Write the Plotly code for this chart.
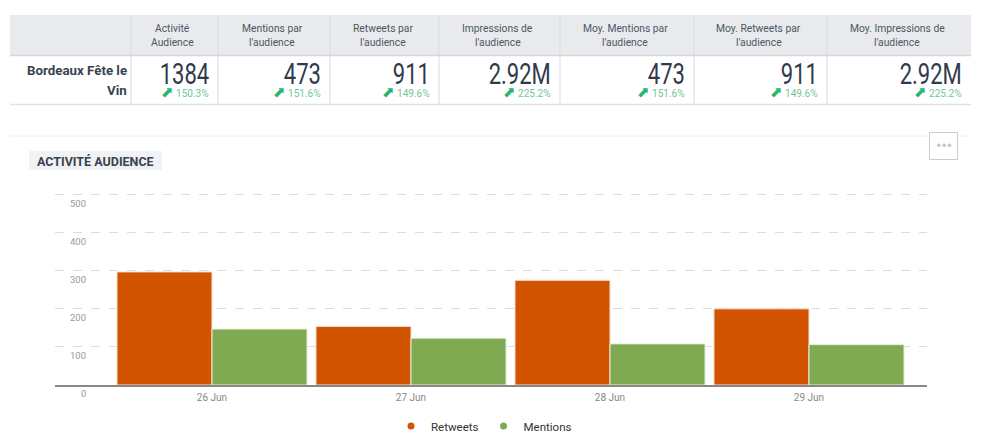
import plotly.graph_objects as go

W, H = 986, 448
days = ["26 Jun", "27 Jun", "28 Jun", "29 Jun"]
retweets = [297, 154, 275, 200]
mentions = [147, 123, 108, 106]
y_ticks = [0, 100, 200, 300, 400, 500]

row_label = ["Bordeaux Fête le", "Vin"]
headers = [["Activité", "Audience"], ["Mentions par", "l'audience"], ["Retweets par", "l'audience"],
           ["Impressions de", "l'audience"], ["Moy. Mentions par", "l'audience"],
           ["Moy. Retweets par", "l'audience"], ["Moy. Impressions de", "l'audience"]]
values = ["1384", "473", "911", "2.92M", "473", "911", "2.92M"]
changes = ["150.3%", "151.6%", "149.6%", "225.2%", "151.6%", "149.6%", "225.2%"]
col_edges = [131, 218, 330, 439, 560, 694, 827, 971]

ORANGE, GREEN = "#d35400", "#7faa52"
FONT = "Roboto"
BIG = 29


def px(x):
    return x / W


def py(y):
    return 1 - y / H


def text(x, y, s, size, color, anchor="center", family=FONT):
    return dict(xref="paper", yref="paper", x=px(x), y=py(y), text=s, showarrow=False,
                xanchor=anchor, yanchor="middle", font=dict(size=size, color=color, family=family))


def rect(x0, y0, x1, y1, fill="rgba(0,0,0,0)", line="rgba(0,0,0,0)", width=1):
    return dict(type="rect", xref="paper", yref="paper", x0=px(x0), x1=px(x1), y0=py(y0), y1=py(y1),
                fillcolor=fill, line=dict(color=line, width=width), layer="below")


def hline(x0, x1, y, color, width=1):
    return dict(type="line", xref="paper", yref="paper", x0=px(x0), x1=px(x1), y0=py(y), y1=py(y),
                line=dict(color=color, width=width), layer="below")


def vline(x, y0, y1, color):
    return dict(type="line", xref="paper", yref="paper", x0=px(x), x1=px(x), y0=py(y0), y1=py(y1),
                line=dict(color=color, width=1), layer="below")


shapes = [rect(10, 15, 971, 55, fill="#e8eaed"),
          hline(10, 971, 55.5, "#d5d8db", 1.5),
          hline(10, 971, 104.5, "#dfe1e3", 1.5),
          hline(10, 971, 136, "#eeeeee"),
          rect(29, 151, 162, 170, fill="#f1f2f4"),
          rect(929.5, 132.5, 957.5, 159.5, fill="#ffffff", line="#cccccc")]
annotations = []

for e in col_edges[:-1]:
    shapes.append(vline(e, 15, 104, "#d9dbde"))

for i, head in enumerate(headers):
    cx = (col_edges[i] + col_edges[i + 1]) / 2 - 2
    annotations.append(text(cx, 28.5, head[0], 10.3, "#4d5763"))
    annotations.append(text(cx, 42.5, head[1], 10.3, "#4d5763"))
    right = col_edges[i + 1] - 7
    annotations.append(text(right, 74, values[i], BIG, "#2f3a4c", "right"))
    annotations.append(text(right, 92, "<span style='color:#27b56f;font-family:DejaVu Sans;font-size:15px'>⬈</span> "
                            + changes[i], 10, "#6fc79a", "right"))

annotations.append(text(129, 71, "<b>" + row_label[0] + "</b>", 13.3, "#3a4350", "right"))
annotations.append(text(129, 90, "<b>" + row_label[1] + "</b>", 13.3, "#3a4350", "right"))
annotations.append(text(95.5, 161, "<b>ACTIVITÉ AUDIENCE</b>", 12.5, "#3a4350"))
annotations.append(text(943.5, 145, "•••", 16, "#c4c4c4"))

for t in y_ticks:
    annotations.append(dict(xref="paper", yref="y", x=px(88), y=t, yshift=-8.5, text=str(t),
                            showarrow=False, xanchor="right", yanchor="middle",
                            font=dict(size=9.5, color="#999999", family=FONT)))

fig = go.Figure()
fig.add_bar(x=days, y=retweets, name="Retweets", marker=dict(color=ORANGE, line=dict(color="#f2e4d8", width=1)),
            showlegend=False)
fig.add_bar(x=days, y=mentions, name="Mentions", marker=dict(color=GREEN, line=dict(color="#e6eddd", width=1)),
            showlegend=False)
fig.add_scatter(x=[None], y=[None], mode="markers", name="Retweets", marker=dict(color=ORANGE, size=7))
fig.add_scatter(x=[None], y=[None], mode="markers", name="Mentions", marker=dict(color=GREEN, size=7))

fig.update_layout(
    width=W, height=H, margin=dict(l=0, r=0, t=0, b=0), autosize=False,
    paper_bgcolor="#ffffff", plot_bgcolor="rgba(0,0,0,0)",
    barmode="group", bargap=0.045, bargroupgap=0,
    shapes=shapes, annotations=annotations,
    font=dict(family=FONT),
    legend=dict(orientation="h", x=px(484), xanchor="center", y=py(426), yanchor="middle",
                font=dict(size=11.5, color="#333333", family=FONT), itemsizing="trace"),
    xaxis=dict(domain=[px(55), px(927)], type="category", categoryorder="array", categoryarray=days,
               range=[-0.789, 3.593], showgrid=False, showline=True, linecolor="#888888", linewidth=2,
               ticks="", ticklabelstandoff=2, tickfont=dict(size=10, color="#888888", family=FONT),
               anchor="y", fixedrange=True),
    yaxis=dict(domain=[py(385), py(187)], range=[0, 520], tickvals=y_ticks, showticklabels=False,
               showgrid=True, gridcolor="#dddddd", griddash="dash", gridwidth=1, zeroline=False,
               showline=False, ticks="", fixedrange=True),
)
squeeze = """
document.body.style.margin='0';document.body.style.overflow='hidden';
document.querySelectorAll('.annotation-text').forEach(function(t){
  if (parseFloat(t.style.fontSize) !== %d) return;
  var b = t.getBBox(), r = b.x + b.width;
  t.setAttribute('transform', 'translate(' + r + ',0) scale(0.76,1) translate(' + (-r) + ',0)');
});
""" % BIG
fig.write_html("out.html", config=dict(displayModeBar=False), post_script=squeeze)
